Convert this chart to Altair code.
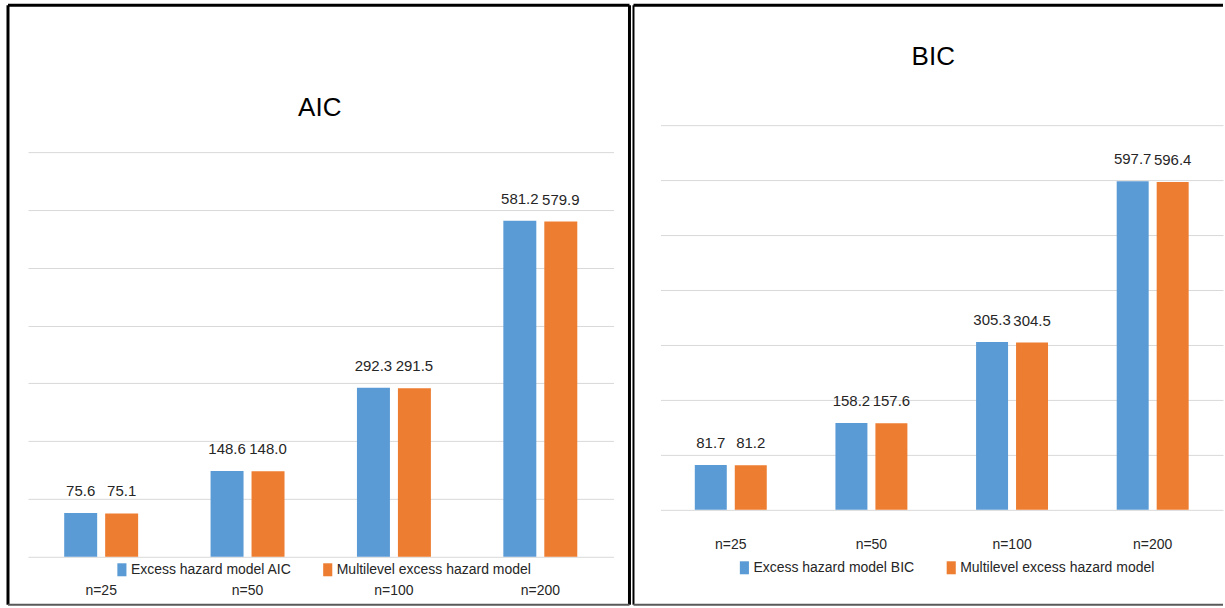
import altair as alt
import pandas as pd

# Sample sizes on the x axis
sizes = ["n=25", "n=50", "n=100", "n=200"]

# AIC per sample size
aic_excess = [75.6, 148.6, 292.3, 581.2]
aic_multilevel = [75.1, 148.0, 291.5, 579.9]

# BIC per sample size
bic_excess = [81.7, 158.2, 305.3, 597.7]
bic_multilevel = [81.2, 157.6, 304.5, 596.4]

aic_series = ["Excess hazard model AIC", "Multilevel  excess hazard model"]
bic_series = ["Excess hazard model BIC", "Multilevel  excess hazard model"]

grid_values = [0, 100, 200, 300, 400, 500, 600, 700]

BLUE = "#5B9BD5"
ORANGE = "#ED7D31"
TEXT = "#262626"
GRID = "#D9D9D9"
FONT = "Liberation Sans, Arial, sans-serif"
# tall narrow legend swatch (unit path, scaled by the symbol size)
LEGEND_SYMBOL = "M-0.7,-1H0.7V1H-0.7Z"

one_row = pd.DataFrame({"k": [0]})


def rule_h(x, x2, y, color="black", width=3):
    return alt.Chart(one_row).mark_rule(color=color, strokeWidth=width).encode(
        x=alt.value(x), x2=alt.value(x2), y=alt.value(y)
    )


def rule_v(x, y, y2, color="black", width=3):
    return alt.Chart(one_row).mark_rule(color=color, strokeWidth=width).encode(
        x=alt.value(x), y=alt.value(y), y2=alt.value(y2)
    )


def panel(title, series, first, second, width, height, y_range, step_inner,
          step_outer, label_pad, legend_x, legend_y, col_pad, title_x, title_y,
          frame):
    df = pd.DataFrame({
        "size": sizes * 2,
        "model": [series[0]] * len(sizes) + [series[1]] * len(sizes),
        "value": first + second,
    })
    x = alt.X(
        "size:N", sort=sizes,
        scale=alt.Scale(paddingInner=0, paddingOuter=0),
        axis=alt.Axis(title=None, labelAngle=0, domain=False, ticks=False,
                      labelPadding=label_pad, labelFont=FONT, labelFontSize=14,
                      labelColor=TEXT, labelBaseline="top"),
    )
    xo = alt.XOffset(
        "model:N", sort=series,
        scale=alt.Scale(paddingInner=step_inner, paddingOuter=step_outer),
    )
    y = alt.Y(
        "value:Q",
        scale=alt.Scale(domain=[0, 700], nice=False, range=y_range),
        axis=alt.Axis(title=None, labels=False, ticks=False, domain=False,
                      values=grid_values, gridColor=GRID, gridWidth=1),
    )
    bars = alt.Chart(df).mark_bar().encode(
        x=x, xOffset=xo, y=y,
        color=alt.Color(
            "model:N", sort=series,
            scale=alt.Scale(domain=series, range=[BLUE, ORANGE]),
            legend=alt.Legend(
                title=None, orient="none", legendX=legend_x, legendY=legend_y,
                direction="horizontal", symbolType=LEGEND_SYMBOL, symbolSize=169,
                symbolStrokeWidth=0, labelFont=FONT, labelFontSize=14,
                labelColor=TEXT, labelOffset=2, columnPadding=col_pad,
                labelLimit=0,
            ),
        ),
    )
    labels = alt.Chart(df).mark_text(
        baseline="alphabetic", dy=-17, font=FONT, fontSize=15, color=TEXT
    ).encode(
        x=x, xOffset=xo, y=y,
        text=alt.Text("value:Q", format=".1f"),
    )
    heading = alt.Chart(one_row).mark_text(
        text=title, font=FONT, fontSize=26, color="#000000",
        baseline="alphabetic", align="center",
    ).encode(x=alt.value(title_x), y=alt.value(title_y))
    return alt.layer(bars, labels, heading, *frame).properties(
        width=width, height=height
    )


left = panel(
    "AIC", aic_series, aic_excess, aic_multilevel,
    width=586, height=405, y_range=[405, 0], step_inner=0.195, step_outer=0.884,
    label_pad=27, legend_x=87, legend_y=411, col_pad=28,
    title_x=292, title_y=-36,
    frame=[
        rule_v(-20, -147, 453),
        rule_h(-20, 602, -147),
        rule_v(602, -147, 453),
        rule_h(-20, 602, 453, color="#595959", width=2),
    ],
)

# The BIC panel shares the row origin with the AIC panel; its plot area
# sits 27px higher and is 385px tall.
right = panel(
    "BIC", bic_series, bic_excess, bic_multilevel,
    width=563, height=358, y_range=[358, -27], step_inner=0.2, step_outer=0.859,
    label_pad=28, legend_x=77, legend_y=409, col_pad=29,
    title_x=273, title_y=-87,
    frame=[
        rule_v(-27, -147, 453, width=2),
        rule_h(-27, 563, -147),
        rule_h(-27, 563, 453, color="#595959", width=2),
    ],
)

chart = alt.hconcat(left, right, spacing=0).resolve_scale(
    x="independent", y="independent", color="independent", xOffset="independent"
).resolve_legend(color="independent").properties(
    padding={"left": 6, "top": 3, "right": 0, "bottom": 1},
    background="white",
).configure_view(strokeWidth=0)

chart.save("out.html", embed_options={"renderer": "svg", "actions": False})
